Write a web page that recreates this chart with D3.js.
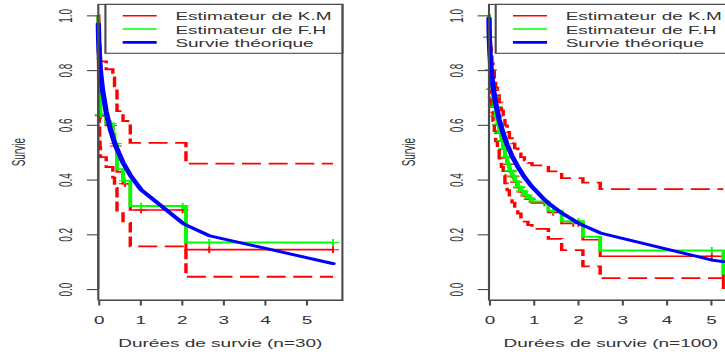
<!DOCTYPE html>
<html>
<head>
<meta charset="utf-8">
<script src="https://cdn.jsdelivr.net/npm/d3@7"></script>
<style>
  html, body { margin: 0; padding: 0; background: #fff; }
  svg { display: block; font-family: "Liberation Sans", Arial, Helvetica, sans-serif; }
</style>
</head>
<body>
<svg id="chart" width="725" height="356"></svg>
<script>
// ---- Sample of n = 30 ----
const times30  = [0.001, 0.003, 0.005, 0.008, 0.011, 0.015, 0.020, 0.026, 0.033, 0.042, 0.052, 0.19, 0.35, 0.39, 0.45, 0.595, 0.77, 2.11];
const km30     = [0.967, 0.933, 0.900, 0.867, 0.833, 0.800, 0.767, 0.733, 0.700, 0.667, 0.633, 0.598, 0.561, 0.523, 0.428, 0.385, 0.289, 0.144];
const fh30     = [0.967, 0.934, 0.902, 0.869, 0.836, 0.803, 0.771, 0.738, 0.705, 0.672, 0.639, 0.605, 0.568, 0.532, 0.438, 0.396, 0.303, 0.170];
const upper30  = [1.000, 1.000, 1.000, 0.997, 0.978, 0.957, 0.934, 0.910, 0.885, 0.859, 0.832, 0.803, 0.773, 0.741, 0.650, 0.614, 0.534, 0.458];
const lower30  = [0.905, 0.848, 0.799, 0.753, 0.710, 0.669, 0.629, 0.591, 0.554, 0.518, 0.482, 0.446, 0.407, 0.370, 0.282, 0.242, 0.156, 0.045];
const censor30 = [0.06, 0.30, 0.42, 0.64, 1.03, 2.03, 2.67, 5.65];
const theoT30  = [0.001, 0.01, 0.03, 0.06, 0.10, 0.19, 0.30, 0.39, 0.45, 0.595, 0.77, 1.03, 2.03, 2.11, 2.67, 5.65];
const theoS30  = [0.969, 0.905, 0.841, 0.783, 0.729, 0.647, 0.578, 0.535, 0.512, 0.462, 0.416, 0.363, 0.241, 0.234, 0.195, 0.093];
const lastTime30 = 5.65;

// ---- Sample of n = 100 ----
const times100  = [0.003, 0.008, 0.015, 0.025, 0.035, 0.05, 0.065, 0.09, 0.12, 0.15, 0.19, 0.23, 0.28, 0.32, 0.36, 0.41, 0.46, 0.52, 0.58, 0.65, 0.72, 0.80, 0.88, 0.97, 1.34, 1.64, 2.12, 2.51, 5.29];
const km100     = [0.960, 0.920, 0.880, 0.840, 0.800, 0.760, 0.730, 0.700, 0.665, 0.630, 0.600, 0.570, 0.540, 0.510, 0.480, 0.455, 0.430, 0.410, 0.390, 0.370, 0.355, 0.340, 0.328, 0.315, 0.280, 0.240, 0.180, 0.120, 0.000];
const fh100     = [0.960, 0.920, 0.881, 0.841, 0.801, 0.761, 0.731, 0.702, 0.667, 0.632, 0.602, 0.572, 0.542, 0.513, 0.483, 0.458, 0.433, 0.414, 0.394, 0.374, 0.359, 0.344, 0.333, 0.320, 0.286, 0.248, 0.191, 0.141, 0.052];
const upper100  = [0.999, 0.975, 0.946, 0.915, 0.883, 0.850, 0.824, 0.798, 0.767, 0.736, 0.708, 0.681, 0.653, 0.625, 0.598, 0.574, 0.551, 0.532, 0.514, 0.496, 0.482, 0.470, 0.461, 0.452, 0.430, 0.405, 0.389, 0.365];
const lower100  = [0.922, 0.868, 0.818, 0.771, 0.725, 0.680, 0.647, 0.614, 0.577, 0.540, 0.508, 0.477, 0.446, 0.416, 0.386, 0.361, 0.336, 0.316, 0.296, 0.276, 0.261, 0.246, 0.234, 0.220, 0.183, 0.142, 0.083, 0.040];
const censor100 = [0.01, 0.04, 0.07, 0.11, 0.14, 0.17, 0.21, 0.25, 0.30, 0.34, 0.39, 0.44, 0.49, 0.55, 0.61, 0.68, 0.75, 0.84, 0.92, 1.25, 1.45, 1.90, 2.02, 5.03];
const theoT100  = [0.0001, 0.003, 0.01, 0.025, 0.05, 0.09, 0.15, 0.23, 0.32, 0.41, 0.52, 0.65, 0.80, 0.97, 1.25, 1.34, 1.64, 2.02, 2.12, 2.51, 5.03, 5.29];
const theoS100  = [0.990, 0.947, 0.905, 0.854, 0.800, 0.741, 0.679, 0.619, 0.568, 0.527, 0.486, 0.447, 0.409, 0.374, 0.327, 0.314, 0.278, 0.241, 0.233, 0.205, 0.106, 0.100];
const lastTime100 = 5.29;

// ---- Axes and legend text ----
const xTicks = [0, 1, 2, 3, 4, 5];
const yTicks = [0, 0.2, 0.4, 0.6, 0.8, 1.0];
const legendLabels = ["Estimateur de K.M", "Estimateur de F.H", "Survie théorique"];
const legendColors = ["#ff0000", "#00ff00", "#0000ff"];
const yTitle = "Survie";

// The figure is drawn in a narrow frame and stretched horizontally.
const SX = 1.9;
const svg = d3.select("#chart");
const root = svg.append("g").attr("transform", `scale(${SX},1)`);

const y = d3.scaleLinear().domain([-0.04, 1.04]).range([300, 4.4]);
const AXIS = "#4a4a4a";
const TEXT = "#333";

function stepValue(ts, vs, t) {
  const i = d3.bisectRight(ts, t);
  return i === 0 ? 1 : vs[i - 1];
}

function drawPanel(p) {
  const x = d3.scaleLinear().domain([0, p.tMax * 1.04]).range([p.left / SX, p.right / SX]);
  const [x0, x1] = x.range();
  const g = root.append("g");

  const stepLine = d3.line().x(d => x(d[0])).y(d => y(d[1])).curve(d3.curveStepAfter);
  const series = (ts, vs) => {
    const pts = [[0, 1]];
    vs.forEach((v, i) => pts.push([ts[i], v]));
    pts.push([p.tMax, vs[vs.length - 1]]);
    return pts;
  };

  // confidence band of the Kaplan-Meier estimate
  [p.upper, p.lower].forEach(vs => {
    g.append("path")
      .attr("d", stepLine(series(p.times, vs)))
      .attr("fill", "none")
      .attr("stroke", "#ff0000")
      .attr("stroke-width", 1.8)
      .attr("stroke-dasharray", "10,4");
  });

  // Kaplan-Meier and Fleming-Harrington curves with censoring marks
  [[p.km, "#ff0000", 1.6], [p.fh, "#00ff00", 2.0]].forEach(([vs, col, w]) => {
    g.append("path")
      .attr("d", stepLine(series(p.times, vs)))
      .attr("fill", "none")
      .attr("stroke", col)
      .attr("stroke-width", w);
    g.append("g").selectAll("path")
      .data(p.censor)
      .join("path")
      .attr("d", c => {
        const cx = x(c), cy = y(stepValue(p.times, vs, c));
        return `M${cx - 3.2},${cy}h6.4M${cx},${cy - 3.4}v6.8`;
      })
      .attr("fill", "none")
      .attr("stroke", col)
      .attr("stroke-width", 1);
  });

  // theoretical survival
  g.append("path")
    .attr("d", d3.line().x(d => x(d[0])).y(d => y(d[1]))(p.theoT.map((t, i) => [t, p.theoS[i]])))
    .attr("fill", "none")
    .attr("stroke", "#0000ff")
    .attr("stroke-width", 2.8)
    .attr("stroke-linejoin", "round")
    .attr("stroke-linecap", "round");

  // frame
  g.append("rect")
    .attr("x", x0).attr("y", 4.4)
    .attr("width", x1 - x0).attr("height", 300 - 4.4)
    .attr("fill", "none").attr("stroke", AXIS).attr("stroke-width", 1.1);

  // x axis
  const gx = g.append("g")
    .attr("transform", "translate(0,300)")
    .call(d3.axisBottom(x).tickValues(xTicks).tickSize(5.5).tickSizeOuter(0).tickFormat(d3.format("d")))
    .attr("font-family", null).attr("font-size", 10).attr("color", AXIS);
  gx.selectAll("line").attr("stroke-width", 1.1);
  gx.select(".domain").attr("stroke-width", 1.1);
  gx.selectAll("text").attr("y", 24).attr("dy", null).attr("fill", TEXT);

  // y axis
  const gy = g.append("g")
    .attr("transform", `translate(${x0},0)`)
    .call(d3.axisLeft(y).tickValues(yTicks).tickSize(6).tickSizeOuter(0).tickFormat(d3.format(".1f")))
    .attr("font-family", null).attr("font-size", 10).attr("color", AXIS);
  gy.selectAll("line").attr("stroke-width", 1.1);
  gy.select(".domain").attr("d", `M0,${y(0)}V${y(1)}`).attr("stroke-width", 1.1);
  gy.selectAll("text")
    .attr("transform", "rotate(-90)")
    .attr("x", 0).attr("y", -17.5).attr("dy", null)
    .attr("text-anchor", "middle")
    .attr("dominant-baseline", "central")
    .attr("fill", TEXT);

  // axis titles
  g.append("text")
    .attr("transform", `translate(${x0 - 42.4},${(y.range()[0] + y.range()[1]) / 2}) rotate(-90)`)
    .attr("text-anchor", "middle").attr("dominant-baseline", "central")
    .attr("font-size", 10).attr("fill", TEXT)
    .text(yTitle);
  g.append("text")
    .attr("x", (x0 + x1) / 2).attr("y", 347)
    .attr("text-anchor", "middle")
    .attr("font-size", 10).attr("fill", TEXT)
    .text(p.xTitle);

  // legend, top right corner of the frame
  const lw = 237 / SX;
  const lg = g.append("g").attr("transform", `translate(${x1 - lw},4.4)`);
  lg.append("rect")
    .attr("width", lw).attr("height", 48.9)
    .attr("fill", "#fff").attr("stroke", AXIS).attr("stroke-width", 1.1);
  legendLabels.forEach((lab, i) => {
    const ry = 11.3 + i * 13.3;
    lg.append("line")
      .attr("x1", 17.3 / SX).attr("x2", 51.3 / SX)
      .attr("y1", ry).attr("y2", ry)
      .attr("stroke", legendColors[i]).attr("stroke-width", i === 2 ? 2.7 : 1.6);
    lg.append("text")
      .attr("x", 70 / SX).attr("y", ry + 4.6)
      .attr("font-size", 10).attr("fill", TEXT)
      .text(lab);
  });
}

drawPanel({
  times: times30, km: km30, fh: fh30, upper: upper30, lower: lower30,
  censor: censor30, theoT: theoT30, theoS: theoS30, tMax: lastTime30,
  left: 98.3, right: 342.4, xTitle: "Durées de survie (n=30)"
});
drawPanel({
  times: times100, km: km100, fh: fh100, upper: upper100, lower: lower100,
  censor: censor100, theoT: theoT100, theoS: theoS100, tMax: lastTime100,
  left: 489, right: 732.7, xTitle: "Durées de survie (n=100)"
});
</script>
</body>
</html>
